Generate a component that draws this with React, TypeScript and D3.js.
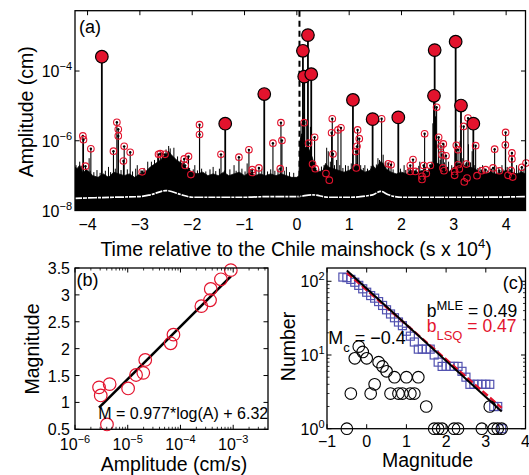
import React from "react";
import * as d3 from "d3";

// ---------- Panel (a): events (time x1e4 s, log10 amplitude cm) ----------
const bigEvents: [number, number][] = [
  [-3.727, -3.59], [-1.369, -5.51], [-0.623, -4.66], [0.116, -3.42], [0.141, -4.16],
  [0.212, -2.97], [0.275, -4.09], [1.072, -4.83], [1.448, -5.38], [1.939, -5.33],
  [2.621, -4.71], [2.634, -3.40], [3.035, -3.16], [3.137, -4.99], [3.373, -5.51],
];
const smallEvents: [number, number][] = [
  [-4.09, -5.86], [-4.078, -5.97], [-4.04, -6.73], [-3.937, -6.23], [-3.505, -6.30],
  [-3.44, -5.47], [-3.413, -5.67], [-3.413, -5.86], [-3.30, -6.16], [-3.314, -6.58],
  [-3.185, -6.33], [-2.956, -6.89], [-2.644, -6.39], [-2.61, -6.37], [-2.52, -6.39],
  [-2.153, -6.52], [-2.134, -6.71], [-2.071, -6.45], [-2.025, -6.97], [-1.86, -5.54],
  [-1.86, -5.82], [-1.45, -6.39], [-1.107, -6.47], [-0.916, -6.26], [-0.853, -6.83],
  [-0.853, -6.91], [-0.725, -6.78], [-0.457, -6.07], [-0.304, -5.48], [-0.285, -5.99],
  [-0.317, -6.80], [0.141, -5.48], [0.224, -6.07], [0.30, -6.67], [0.339, -5.90],
  [0.352, -6.80], [0.556, -6.94], [0.62, -7.13], [0.677, -5.37], [0.664, -5.77],
  [0.69, -6.38], [0.786, -5.69], [0.843, -5.63], [1.13, -6.31], [1.149, -6.16],
  [1.161, -5.69], [1.193, -5.94], [1.136, -6.78], [1.62, -5.37], [1.748, -6.66],
  [1.80, -6.69], [2.168, -6.71], [2.22, -6.54], [2.168, -6.88], [2.264, -6.88],
  [2.442, -5.80], [2.423, -6.71], [2.474, -6.94], [2.392, -7.02], [2.392, -7.11],
  [2.551, -6.71], [2.671, -5.04], [2.71, -5.90], [2.755, -6.16], [2.799, -6.09],
  [2.774, -6.40], [2.85, -6.43], [2.793, -6.78], [2.812, -6.86], [3.048, -6.13],
  [3.08, -6.26], [3.08, -6.69], [3.015, -6.88], [3.015, -6.99], [3.105, -6.81],
  [3.188, -5.59], [3.239, -6.67], [3.20, -7.18], [3.252, -7.07], [3.271, -5.35],
  [3.417, -6.14], [3.443, -7.00], [3.532, -6.86], [3.608, -6.83], [3.78, -6.24],
  [3.75, -6.78], [3.87, -6.86], [3.99, -5.76], [3.985, -6.12], [4.11, -6.35],
  [4.11, -6.52], [4.036, -6.99], [4.094, -6.85], [4.125, -7.04], [4.30, -6.76],
  [4.38, -6.64],
];
const minorSpikes: [number, number][] = [
  [-4.15, -6.6], [-3.97, -6.5], [-3.6, -6.75], [-3.05, -6.7], [-2.85, -6.6],
  [-2.45, -6.15], [-2.35, -6.2], [-1.95, -6.7], [-1.6, -6.75], [-1.2, -6.7],
  [-0.95, -6.65], [-0.2, -6.75], [0.08, -5.5], [0.12, -5.2], [0.18, -5.4],
  [0.26, -5.6], [0.57, -6.2], [0.6, -6.3], [0.93, -6.7], [1.3, -6.7],
  [1.55, -6.5], [1.65, -6.4], [1.7, -6.6], [2.05, -6.7], [2.35, -6.6],
  [2.6, -5.5], [2.65, -5.3], [2.9, -6.6], [3.02, -6.3], [3.12, -6.0],
  [3.28, -6.1], [3.35, -6.3], [3.55, -6.7], [3.7, -6.8], [3.92, -6.7], [4.2, -6.7],
];
// short hairs on top of the noise band (log10 cm)
const hairs: [number, number][] = [
  [-4.22, -6.7], [-4.18, -6.78], [-4.12, -6.72], [-4.02, -6.8], [-3.95, -6.86], [-3.88, -6.9],
  [-3.82, -6.84], [-3.76, -6.92], [-3.66, -6.86], [-3.56, -6.9], [-3.47, -6.8], [-3.36, -6.84],
  [-3.24, -6.82], [-3.14, -6.88], [-3.08, -6.8], [-2.98, -6.85], [-2.92, -6.78], [-2.78, -6.6],
  [-2.72, -6.55], [-2.66, -6.45], [-2.57, -6.35], [-2.5, -6.25], [-2.42, -6.22], [-2.28, -6.45],
  [-2.22, -6.55], [-2.17, -6.6], [-2.05, -6.78], [-1.98, -6.82], [-1.9, -6.85], [-1.82, -6.8],
  [-1.74, -6.88], [-1.66, -6.82], [-1.55, -6.87], [-1.48, -6.8], [-1.38, -6.85], [-1.28, -6.82],
  [-1.16, -6.86], [-1.05, -6.8], [-0.99, -6.88], [-0.88, -6.82], [-0.78, -6.86], [-0.67, -6.8],
  [-0.56, -6.88], [-0.5, -6.82], [-0.42, -6.86], [-0.36, -6.8], [-0.24, -6.86], [-0.14, -6.9],
  [-0.06, -6.92], [0.42, -6.8], [0.47, -6.74], [0.52, -6.7], [0.64, -6.6], [0.72, -6.7],
  [0.76, -6.55], [0.82, -6.7], [0.88, -6.78], [0.98, -6.72], [1.04, -6.65], [1.22, -6.7],
  [1.27, -6.78], [1.35, -6.8], [1.42, -6.72], [1.52, -6.68], [1.58, -6.55], [1.76, -6.78],
  [1.84, -6.82], [1.98, -6.8], [2.08, -6.84], [2.14, -6.78], [2.28, -6.8], [2.33, -6.72],
  [2.46, -6.75], [2.52, -6.8], [2.58, -6.6], [2.74, -6.55], [2.82, -6.62], [2.88, -6.75],
  [2.96, -6.7], [3.06, -6.55], [3.16, -6.5], [3.24, -6.6], [3.32, -6.62], [3.4, -6.7],
  [3.46, -6.78], [3.5, -6.75], [3.58, -6.82], [3.64, -6.85], [3.72, -6.8], [3.82, -6.84],
  [3.86, -6.78], [3.94, -6.82], [4.02, -6.75], [4.06, -6.8], [4.16, -6.82], [4.24, -6.78],
  [4.28, -6.84], [4.34, -6.8],
];
// upper edge of the noise band (log10 cm)
const noiseTop: [number, number][] = [
  [-4.24, -6.75], [-4.2, -6.8], [-4.15, -6.7], [-4.1, -6.9], [-4.0, -6.85], [-3.9, -7.0],
  [-3.8, -7.05], [-3.7, -6.95], [-3.6, -7.05], [-3.5, -6.9], [-3.4, -6.95], [-3.3, -7.0],
  [-3.2, -6.95], [-3.1, -7.05], [-3.0, -6.95], [-2.9, -6.9], [-2.8, -6.75], [-2.7, -6.65],
  [-2.6, -6.55], [-2.55, -6.45], [-2.5, -6.4], [-2.45, -6.3], [-2.4, -6.4], [-2.3, -6.55],
  [-2.2, -6.65], [-2.1, -6.8], [-2.0, -6.9], [-1.9, -6.95], [-1.8, -6.9], [-1.7, -7.0],
  [-1.6, -6.95], [-1.5, -7.0], [-1.4, -6.9], [-1.3, -7.0], [-1.2, -6.95], [-1.1, -6.9],
  [-1.0, -7.0], [-0.9, -6.9], [-0.8, -7.0], [-0.7, -6.95], [-0.6, -7.0], [-0.5, -6.95],
  [-0.4, -7.0], [-0.3, -6.95], [-0.2, -7.0], [-0.1, -7.05], [0.0, -7.05], [0.04, -7.0],
  [0.06, -6.0], [0.09, -5.8], [0.12, -6.1], [0.16, -6.2], [0.2, -6.15], [0.25, -6.3],
  [0.3, -6.5], [0.35, -6.8], [0.4, -6.9], [0.5, -6.85], [0.55, -6.65], [0.6, -6.75],
  [0.7, -6.8], [0.8, -6.85], [0.9, -6.9], [1.0, -6.85], [1.1, -6.75], [1.15, -6.65],
  [1.2, -6.8], [1.3, -6.9], [1.4, -6.85], [1.45, -6.7], [1.5, -6.8], [1.55, -6.7],
  [1.6, -6.6], [1.65, -6.65], [1.7, -6.8], [1.8, -6.9], [1.9, -6.95], [2.0, -6.9],
  [2.1, -6.95], [2.2, -6.85], [2.3, -6.9], [2.4, -6.85], [2.5, -6.9], [2.6, -6.65],
  [2.7, -6.65], [2.8, -6.75], [2.9, -6.9], [3.0, -6.75], [3.1, -6.65], [3.2, -6.7],
  [3.3, -6.75], [3.4, -6.8], [3.5, -6.9], [3.6, -6.95], [3.7, -6.9], [3.8, -6.95],
  [3.9, -6.9], [4.0, -6.85], [4.1, -6.9], [4.2, -6.95], [4.3, -6.9], [4.37, -6.95],
];
// thin light gap inside the lower part of the band (log10 cm)
const noiseGap: [number, number][] = [
  [-4.24, -7.65], [-3.5, -7.62], [-3.0, -7.6], [-2.8, -7.55], [-2.5, -7.43], [-2.2, -7.55],
  [-2.0, -7.62], [-1.0, -7.62], [-0.5, -7.6], [0, -7.6], [0.3, -7.55], [0.6, -7.62],
  [1.0, -7.62], [1.45, -7.55], [1.6, -7.45], [1.75, -7.55], [2.0, -7.62], [3.0, -7.62],
  [3.5, -7.62], [4.37, -7.6],
];
const mainshockT = 0.05;
const aXTicks = [-4, -3, -2, -1, 0, 1, 2, 3, 4];
const aYTicks = [-8, -6, -4];

// ---------- Panel (b) ----------
const bLogAmp = [-5.544, -5.512, -5.343, -5.394, -4.993, -4.842, -4.705, -4.668, -4.186, -4.133, -3.604, -3.439, -3.426, -3.233, -3.045];
const bMag = [1.28, 1.13, 1.34, 0.59, 1.26, 1.51, 1.55, 1.79, 2.10, 2.26, 2.79, 2.90, 3.11, 3.29, 3.46];
const bSlope = 0.977;
const bIntercept = 6.32;
const bYTicks = [0.5, 1, 1.5, 2, 2.5, 3, 3.5];
const bXTicks = [-6, -5, -4, -3];

// ---------- Panel (c) ----------
const cumMag = [-0.6, -0.5, -0.4, -0.3, -0.2, -0.1, 0, 0.1, 0.2, 0.3, 0.4, 0.5, 0.6, 0.7, 0.8, 0.9, 1.0, 1.1, 1.2, 1.3, 1.4, 1.5, 1.6, 1.7, 1.8, 1.9, 2.0, 2.1, 2.2, 2.3, 2.4, 2.5, 2.6, 2.7, 2.8, 2.9, 3.0, 3.1, 3.2, 3.3, 3.4];
const cumCount = [114, 112, 106, 97, 88, 79, 71, 64, 59, 53, 47, 41, 36, 32, 28, 25, 21, 18, 15, 12, 12, 12, 12, 10, 8, 7, 7, 7, 7, 7, 6, 5, 4, 4, 4, 4, 4, 4, 2, 2, 1];
const binMag = [-0.5, -0.4, -0.3, -0.2, -0.1, 0.0, 0.1, 0.2, 0.3, 0.4, 0.5, 0.6, 0.7, 0.8, 0.9, 1.0, 1.1, 1.2, 1.3, 1.5, 1.7, 1.8, 1.9, 2.2, 2.3, 2.9, 3.1, 3.2, 3.3, 3.4];
const binCount = [1, 3, 9, 13, 11, 9, 3, 4, 8, 7, 6, 3, 5, 3, 3, 5, 3, 3, 5, 2, 1, 1, 1, 1, 1, 1, 2, 1, 1, 1];
const mleA = 1.90, mleB = 0.49;
const lsqA = 1.88, lsqB = 0.47;
const cXTicks = [-1, 0, 1, 2, 3, 4];
const cYTicks = [0, 1, 2];

const RED = "#e3132d";
const BLUE = "#5252b0";
const FONT = "'Liberation Sans', Arial, Helvetica, sans-serif";
const minus = (v: number) => (v < 0 ? "\u2212" + Math.abs(v) : String(v));

const A = { l: 75, r: 525.5, t: 10.7, b: 210.5 };
const B = { l: 75, r: 268, t: 268, b: 429.3 };
const C = { l: 327, r: 525.5, t: 268, b: 428.7 };

function Pow({ x, y, exp, anchor }: { x: number; y: number; exp: number; anchor: string }) {
  return (
    <text x={x} y={y} textAnchor={anchor as any} fontSize={16}>
      10<tspan dy={-7} fontSize={11}>{minus(exp)}</tspan>
    </text>
  );
}

export default function App() {
  const xA = d3.scaleLinear().domain([-4.24, 4.37]).range([A.l, A.r]);
  const yA = d3.scaleLog().domain([1e-8, Math.pow(10, -2.27)]).range([A.b, A.t]);
  const xB = d3.scaleLog().domain([1e-6, Math.pow(10, -2.34)]).range([B.l, B.r]);
  const yB = d3.scaleLinear().domain([0.5, 3.5]).range([B.b, B.t]);
  const xC = d3.scaleLinear().domain([-1, 4]).range([C.l, C.r]);
  const yC = d3.scaleLog().domain([1, Math.pow(10, 2.18)]).range([C.b, C.t]);

  const area = d3
    .area<[number, number]>()
    .x((d) => xA(d[0]))
    .y0(A.b)
    .y1((d) => yA(Math.pow(10, d[1])));
  const gapLine = d3
    .line<[number, number]>()
    .x((d) => xA(d[0]))
    .y((d) => yA(Math.pow(10, d[1])))
    .curve(d3.curveMonotoneX);
  const spikeBase = yA(Math.pow(10, -7.3));

  const bLo = d3.min(bLogAmp)!;
  const bHi = d3.max(bLogAmp)!;
  const mLo = d3.min(binMag)!;
  const mHi = d3.max(binMag)!;

  const bMinor: number[] = [];
  for (let d = -6; d <= -3; d++) for (let k = 2; k <= 9; k++) {
    const v = k * Math.pow(10, d);
    if (v < xB.domain()[1]) bMinor.push(v);
  }
  const cMinor: number[] = [];
  for (let d = 0; d <= 2; d++) for (let k = 2; k <= 9; k++) {
    const v = k * Math.pow(10, d);
    if (v < yC.domain()[1]) cMinor.push(v);
  }

  const tk = 4.5;
  const frame = (P: { l: number; r: number; t: number; b: number }) => (
    <rect x={P.l} y={P.t} width={P.r - P.l} height={P.b - P.t} fill="none" stroke="#000" strokeWidth={1.3} />
  );

  return (
    <svg width={529} height={475} style={{ position: "absolute", left: 0, top: 0 }} fontFamily={FONT}>
      <rect width={529} height={475} fill="#fff" />
      <defs>
        <clipPath id="clipA"><rect x={A.l} y={A.t} width={A.r - A.l} height={A.b - A.t} /></clipPath>
        <clipPath id="clipC"><rect x={C.l} y={C.t} width={C.r - C.l} height={C.b - C.t} /></clipPath>
      </defs>

      {/* ---------------- Panel (a) ---------------- */}
      <g clipPath="url(#clipA)">
        <path d={area(noiseTop) || ""} fill="#000" stroke="#000" strokeWidth={0.8} />
        <path d={gapLine(noiseGap) || ""} fill="none" stroke="#fff" strokeWidth={1.7} strokeDasharray="7 1 4 1 9 1 3 1" />
        {hairs.map((d, i) => (
          <line key={"h" + i} x1={xA(d[0])} x2={xA(d[0])} y1={spikeBase} y2={yA(Math.pow(10, d[1]))} stroke="#000" strokeWidth={1} />
        ))}
        {minorSpikes.map((d, i) => (
          <line key={"m" + i} x1={xA(d[0])} x2={xA(d[0])} y1={spikeBase} y2={yA(Math.pow(10, d[1]))} stroke="#000" strokeWidth={1} />
        ))}
        {smallEvents.map((d, i) => (
          <line key={"sl" + i} x1={xA(d[0])} x2={xA(d[0])} y1={spikeBase} y2={yA(Math.pow(10, d[1]))} stroke="#000" strokeWidth={1.1} />
        ))}
        {bigEvents.map((d, i) => (
          <line key={"bl" + i} x1={xA(d[0])} x2={xA(d[0])} y1={spikeBase} y2={yA(Math.pow(10, d[1]))} stroke="#000" strokeWidth={1.8} />
        ))}
        <line x1={xA(mainshockT)} x2={xA(mainshockT)} y1={A.t} y2={A.b} stroke="#000" strokeWidth={2} strokeDasharray="6 4" />
      </g>
      {smallEvents.map((d, i) => (
        <g key={"sc" + i}>
          <circle cx={xA(d[0])} cy={yA(Math.pow(10, d[1]))} r={3.3} fill="none" stroke={RED} strokeWidth={1.1} />
          <circle cx={xA(d[0])} cy={yA(Math.pow(10, d[1]))} r={1.2} fill="#000" />
        </g>
      ))}
      {bigEvents.map((d, i) => (
        <circle key={"bc" + i} cx={xA(d[0])} cy={yA(Math.pow(10, d[1]))} r={6.3} fill={RED} stroke="#000" strokeWidth={1.2} />
      ))}
      {frame(A)}
      {aXTicks.map((t) => (
        <g key={"ax" + t}>
          <line x1={xA(t)} x2={xA(t)} y1={A.b} y2={A.b - tk} stroke="#000" strokeWidth={1} />
          <line x1={xA(t)} x2={xA(t)} y1={A.t} y2={A.t + tk} stroke="#000" strokeWidth={1} />
          <text x={xA(t)} y={230} textAnchor="middle" fontSize={16}>{minus(t)}</text>
        </g>
      ))}
      {aYTicks.map((e) => (
        <g key={"ay" + e}>
          <line x1={A.l} x2={A.l + tk} y1={yA(Math.pow(10, e))} y2={yA(Math.pow(10, e))} stroke="#000" strokeWidth={1} />
          <line x1={A.r} x2={A.r - tk} y1={yA(Math.pow(10, e))} y2={yA(Math.pow(10, e))} stroke="#000" strokeWidth={1} />
          <Pow x={72} y={yA(Math.pow(10, e)) + 6} exp={e} anchor="end" />
        </g>
      ))}
      <text x={79} y={33} fontSize={18}>(a)</text>
      <text x={296} y={256} textAnchor="middle" fontSize={19.5}>
        Time relative to the Chile mainshock (s x 10<tspan dy={-8} fontSize={13}>4</tspan><tspan dy={8}>)</tspan>
      </text>
      <text transform="translate(32.5,111.7) rotate(-90)" textAnchor="middle" fontSize={19.5}>Amplitude (cm)</text>

      {/* ---------------- Panel (b) ---------------- */}
      <line
        x1={xB(Math.pow(10, bLo))} y1={yB(bSlope * bLo + bIntercept)}
        x2={xB(Math.pow(10, bHi))} y2={yB(bSlope * bHi + bIntercept)}
        stroke="#000" strokeWidth={2.6}
      />
      {bLogAmp.map((a, i) => (
        <circle key={"bp" + i} cx={xB(Math.pow(10, a))} cy={yB(bMag[i])} r={6.3} fill="none" stroke={RED} strokeWidth={1.2} />
      ))}
      {frame(B)}
      {bXTicks.map((e) => (
        <g key={"bx" + e}>
          <line x1={xB(Math.pow(10, e))} x2={xB(Math.pow(10, e))} y1={B.b} y2={B.b - tk} stroke="#000" />
          <line x1={xB(Math.pow(10, e))} x2={xB(Math.pow(10, e))} y1={B.t} y2={B.t + tk} stroke="#000" />
          <Pow x={xB(Math.pow(10, e))} y={450} exp={e} anchor="middle" />
        </g>
      ))}
      {bMinor.map((v, i) => (
        <g key={"bm" + i}>
          <line x1={xB(v)} x2={xB(v)} y1={B.b} y2={B.b - 2.5} stroke="#000" strokeWidth={0.8} />
          <line x1={xB(v)} x2={xB(v)} y1={B.t} y2={B.t + 2.5} stroke="#000" strokeWidth={0.8} />
        </g>
      ))}
      {bYTicks.map((v) => (
        <g key={"by" + v}>
          <line x1={B.l} x2={B.l + tk} y1={yB(v)} y2={yB(v)} stroke="#000" />
          <line x1={B.r} x2={B.r - tk} y1={yB(v)} y2={yB(v)} stroke="#000" />
          <text x={70} y={yB(v) + 6} textAnchor="end" fontSize={16}>{v}</text>
        </g>
      ))}
      <text x={76.5} y={285.5} fontSize={18}>(b)</text>
      <text x={98.3} y={419.3} fontSize={16}>M = 0.977*log(A) + 6.32</text>
      <text x={174} y={470.5} textAnchor="middle" fontSize={19.5}>Amplitude (cm/s)</text>
      <text transform="translate(39,349) rotate(-90)" textAnchor="middle" fontSize={19.5}>Magnitude</text>

      {/* ---------------- Panel (c) ---------------- */}
      {cumMag.map((m, i) => (
        <rect key={"cs" + i} x={xC(m) - 4} y={yC(cumCount[i]) - 4} width={8} height={8} fill="none" stroke={BLUE} strokeWidth={1.2} />
      ))}
      <g clipPath="url(#clipC)">
        <line
          x1={xC(mLo)} y1={yC(Math.pow(10, lsqA - lsqB * mLo))}
          x2={xC(mHi)} y2={yC(Math.pow(10, lsqA - lsqB * mHi))}
          stroke={RED} strokeWidth={2.4} strokeDasharray="7 3"
        />
        <line
          x1={xC(mLo)} y1={yC(Math.pow(10, mleA - mleB * mLo))}
          x2={xC(mHi)} y2={yC(Math.pow(10, mleA - mleB * mHi))}
          stroke="#000" strokeWidth={2}
        />
      </g>
      {binMag.map((m, i) => (
        <circle key={"cc" + i} cx={xC(m)} cy={yC(binCount[i])} r={5.8} fill="none" stroke="#000" strokeWidth={1.1} />
      ))}
      {frame(C)}
      {cXTicks.map((v) => (
        <g key={"cx" + v}>
          <line x1={xC(v)} x2={xC(v)} y1={C.b} y2={C.b - tk} stroke="#000" />
          <line x1={xC(v)} x2={xC(v)} y1={C.t} y2={C.t + tk} stroke="#000" />
          <text x={xC(v)} y={446.7} textAnchor="middle" fontSize={16}>{minus(v)}</text>
        </g>
      ))}
      {cYTicks.map((e) => (
        <g key={"cy" + e}>
          <line x1={C.l} x2={C.l + tk} y1={yC(Math.pow(10, e))} y2={yC(Math.pow(10, e))} stroke="#000" />
          <line x1={C.r} x2={C.r - tk} y1={yC(Math.pow(10, e))} y2={yC(Math.pow(10, e))} stroke="#000" />
          <Pow x={324.5} y={yC(Math.pow(10, e)) + 6} exp={e} anchor="end" />
        </g>
      ))}
      {cMinor.map((v, i) => (
        <g key={"cm" + i}>
          <line x1={C.l} x2={C.l + 2.5} y1={yC(v)} y2={yC(v)} stroke="#000" strokeWidth={0.8} />
          <line x1={C.r} x2={C.r - 2.5} y1={yC(v)} y2={yC(v)} stroke="#000" strokeWidth={0.8} />
        </g>
      ))}
      <text x={502.7} y={288.5} fontSize={18}>(c)</text>
      <text x={426.7} y={316.7} fontSize={17.5} fill="#000">
        b<tspan dy={-7} fontSize={13}>MLE</tspan><tspan dy={7}> = 0.49</tspan>
      </text>
      <text x={426.7} y={332} fontSize={17.5} fill={RED}>
        b<tspan dy={8} fontSize={13}>LSQ</tspan><tspan dy={-8}> = 0.47</tspan>
      </text>
      <text x={328.3} y={343.7} fontSize={18}>
        M<tspan dy={8} fontSize={13}>c</tspan><tspan dy={-8}> = {"\u2212"}0.4</tspan>
      </text>
      <text x={427.5} y={467} textAnchor="middle" fontSize={19.5}>Magnitude</text>
      <text transform="translate(294.5,346.5) rotate(-90)" textAnchor="middle" fontSize={19.5}>Number</text>
    </svg>
  );
}
